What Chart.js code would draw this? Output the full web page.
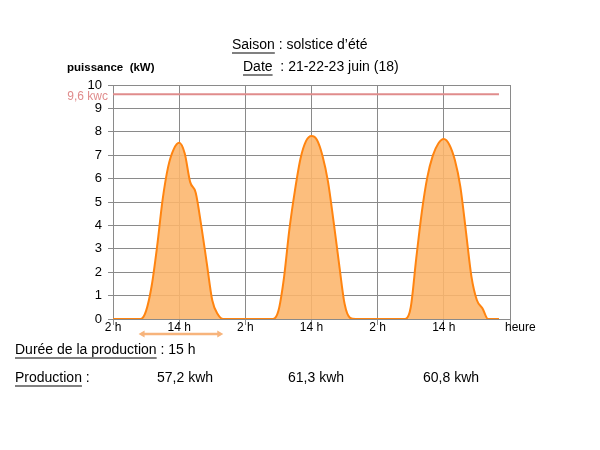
<!DOCTYPE html>
<html>
<head>
<meta charset="utf-8">
<script src="https://cdn.jsdelivr.net/npm/chart.js@4/dist/chart.umd.min.js"></script>
<style>
  body { margin: 0; background: #fff; }
  #wrap { position: relative; width: 600px; height: 450px; font-family: "Liberation Sans", Arial, sans-serif; color: #000; }
  #wrap canvas { position: absolute; left: 0; top: 0; }
  .txt { position: absolute; white-space: pre; font-size: 14px; line-height: 16px; }
  .u { text-decoration: underline; text-decoration-color: #808080; text-decoration-thickness: 2px; text-underline-offset: 3px; }
</style>
</head>
<body>
<div id="wrap">
  <canvas id="chart" width="600" height="450"></canvas>
  <div class="txt" style="left:232px; top:36px;"><span class="u">Saison</span> : solstice d’été</div>
  <div class="txt" style="left:243px; top:58px;"><span class="u">Date</span>  : 21-22-23 juin (18)</div>
  <div class="txt" style="left:67px; top:59px; font-size:11.5px; font-weight:bold;">puissance  (kW)</div>
  <div class="txt" style="left:40px; top:88px; width:68px; text-align:right; font-size:12px; color:#e08c8c;">9,6 kwc</div>
  <div class="txt" style="left:505px; top:319px; font-size:12px;">heure</div>
  <div class="txt" style="left:15px; top:341px;"><span class="u">Durée de la production</span> : 15 h</div>
  <div class="txt" style="left:15px; top:369px;"><span class="u">Production</span> :</div>
  <div class="txt" style="left:157px; top:369px;">57,2 kwh</div>
  <div class="txt" style="left:288px; top:369px;">61,3 kwh</div>
  <div class="txt" style="left:423px; top:369px;">60,8 kwh</div>
</div>
<script>
// puissance horaire (kW), une valeur par heure à partir de 2 h
const day1 = [0, 0, 0, 0, 0, 0, 0.35, 1.4, 3.1, 5.1, 6.5, 7.25, 7.53, 7.08, 5.85, 5.4, 4.0, 2.4, 0.8, 0.2, 0, 0, 0, 0];
const day2 = [0, 0, 0, 0, 0, 0, 0.35, 1.75, 3.85, 5.5, 6.85, 7.6, 7.82, 7.65, 6.97, 5.86, 4.17, 2.36, 0.65, 0.05, 0, 0, 0, 0];
const day3 = [0, 0, 0, 0, 0, 0, 0.5, 2.6, 4.56, 6.05, 6.98, 7.5, 7.69, 7.45, 6.79, 5.65, 3.76, 1.82, 0.8, 0.46, 0, 0, 0];
const tickLabels = ['2 h', '14 h', '2 h', '14 h', '2 h', '14 h', ''];
const peakPower = 9.6;
const productionStart = 5;   // 7 h
const productionEnd = 20;    // 22 h

const values = day1.concat(day2, day3);
const powerPoints = values.map((v, i) => ({ x: i, y: v }));
const peakPoints = [{ x: 0, y: peakPower }, { x: values.length - 1, y: peakPower }];

const arrowPlugin = {
    id: 'durationArrow',
    afterDraw(chart) {
        const ctx = chart.ctx;
        const xs = chart.scales.x;
        const x1 = xs.getPixelForValue(productionStart) - 2;
        const x2 = xs.getPixelForValue(productionEnd);
        const y = 334;
        ctx.save();
        ctx.strokeStyle = '#f7b47c';
        ctx.fillStyle = '#f7b47c';
        ctx.lineWidth = 2.5;
        ctx.beginPath();
        ctx.moveTo(x1 + 3, y);
        ctx.lineTo(x2 - 3, y);
        ctx.stroke();
        ctx.beginPath();
        ctx.moveTo(x1, y); ctx.lineTo(x1 + 6, y - 3.5); ctx.lineTo(x1 + 6, y + 3.5); ctx.closePath();
        ctx.moveTo(x2, y); ctx.lineTo(x2 - 6, y - 3.5); ctx.lineTo(x2 - 6, y + 3.5); ctx.closePath();
        ctx.fill();
        ctx.restore();
    }
};

const ctx = document.getElementById('chart').getContext('2d');
new Chart(ctx, {
    type: 'line',
    data: {
        datasets: [
            {
                data: peakPoints,
                borderColor: '#e08c8c',
                borderWidth: 2,
                pointRadius: 0,
                fill: false
            },
            {
                data: powerPoints,
                borderColor: '#ff8410',
                backgroundColor: 'rgba(252, 181, 107, 0.88)',
                borderWidth: 2,
                pointRadius: 0,
                cubicInterpolationMode: 'monotone',
                fill: 'origin'
            }
        ]
    },
    options: {
        responsive: false,
        animation: false,
        layout: { padding: { left: 0, right: 90, top: 85, bottom: 101 } },
        plugins: {
            legend: { display: false },
            tooltip: { enabled: false }
        },
        scales: {
            x: {
                type: 'linear',
                min: 0,
                max: 72,
                afterFit(scale) { scale.height = 30; },
                border: { color: '#8a8a8a' },
                grid: { color: '#8a8a8a', tickLength: 6 },
                ticks: {
                    stepSize: 12,
                    padding: -5,
                    maxRotation: 0,
                    color: '#000',
                    font: { family: 'Liberation Sans', size: 12 },
                    callback: value => tickLabels[value / 12]
                }
            },
            y: {
                min: 0,
                max: 10,
                afterFit(scale) { scale.width = 113; },
                border: { color: '#8a8a8a' },
                grid: { color: '#8a8a8a', tickLength: 5 },
                ticks: {
                    stepSize: 1,
                    padding: 6,
                    color: '#000',
                    font: { family: 'Liberation Sans', size: 13 }
                }
            }
        }
    },
    plugins: [arrowPlugin]
});
</script>
</body>
</html>
